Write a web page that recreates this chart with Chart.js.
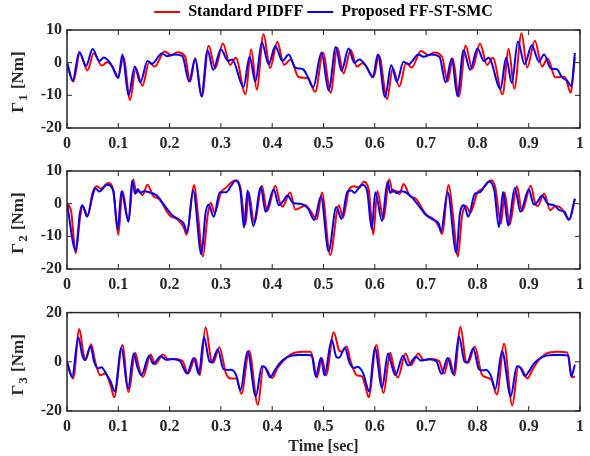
<!DOCTYPE html>
<html lang="en">
<head>
<meta charset="UTF-8">
<title>Joint torques: Standard PIDFF vs Proposed FF-ST-SMC</title>
<script src="https://cdn.jsdelivr.net/npm/chart.js"></script>
<style>
  body { margin: 0; background: #fff; }
  #wrap { position: relative; width: 590px; height: 456px; }
  #wrap canvas { position: absolute; left: 0; }
</style>
</head>
<body>
<div id="wrap">
  <canvas id="c1" width="590" height="152" style="top:0"></canvas>
  <canvas id="c2" width="590" height="146" style="top:152px"></canvas>
  <canvas id="c3" width="590" height="158" style="top:298px"></canvas>
</div>

<script>
  // --- values (time in s, torque in Nm) ---
  const seriesNames = ["Standard PIDFF", "Proposed FF-ST-SMC"];
  const xTicks = [0, 0.1, 0.2, 0.3, 0.4, 0.5, 0.6, 0.7, 0.8, 0.9, 1];

  // Γ1
  const t1Red = [0,0.0125,0.025,0.04,0.052,0.068,0.079,0.094,0.099,0.11,0.123,0.134,0.147,0.16,0.171,0.19,0.204,0.215,0.23,0.24,0.25,0.263,0.276,0.289,0.304,0.318,0.329,0.348,0.359,0.37,0.383,0.396,0.41,0.423,0.436,0.451,0.469,0.484,0.499,0.514,0.527,0.539,0.553,0.565,0.576,0.598,0.608,0.624,0.635,0.648,0.661,0.672,0.69,0.705,0.716,0.731,0.742,0.752,0.764,0.777,0.79,0.805,0.819,0.83,0.849,0.861,0.872,0.886,0.897,0.912,0.926,0.937,0.952,0.97,0.982,0.99];
  const g1Red = [0,-5.8,2.9,-2.4,2.9,-0.9,0.2,-2.8,-4.5,1.6,-11.4,-1.7,-7.1,0,-1.2,3.4,2.3,3.2,2,-5.8,1.3,-10.4,5.2,-1.7,5.9,-0.7,1.5,-9.7,4.1,-8.2,8.7,-1.7,6.4,-0.7,1,-4.3,-4.8,-8.9,3.1,-9.2,4.6,-3.3,3.9,-1.2,-0.2,-4.3,2.3,-11.1,-1.7,-7.3,0,-1.5,3.6,2.3,3.1,1.8,-5.8,1.3,-10.4,5.2,-1.9,5.9,-0.7,1.5,-9.7,4.2,-8,9,-1.5,6.7,-1.2,1.3,-4.5,-4.3,-9.2,1.6];
  const t1Blue = [0,0.011,0.024,0.037,0.05,0.063,0.072,0.086,0.1,0.108,0.12,0.132,0.143,0.157,0.166,0.185,0.195,0.21,0.225,0.238,0.25,0.262,0.274,0.285,0.3,0.314,0.322,0.344,0.356,0.367,0.38,0.393,0.406,0.42,0.432,0.445,0.46,0.47,0.48,0.496,0.51,0.524,0.535,0.549,0.56,0.57,0.583,0.596,0.606,0.62,0.632,0.643,0.656,0.666,0.685,0.695,0.71,0.726,0.738,0.75,0.761,0.773,0.786,0.8,0.813,0.822,0.845,0.856,0.867,0.879,0.892,0.906,0.92,0.93,0.943,0.955,0.965,0.975,0.983,0.99];
  const g1Blue = [0,-5.5,3.3,-1,4.2,0.5,1.6,-0.5,-4.7,2.5,-10,-1.2,-6,0.5,-0.3,2.8,2,2.5,2,-5.8,1.3,-10.3,3.8,-2.2,4.1,0.5,1,-7.5,1.8,-5.8,6.2,-0.5,5,0.5,2.5,-1.5,-2,-4.5,-7.5,3,-8.5,4.8,-2.5,4.3,0,1,-1,-4.5,2.5,-10.5,-0.8,-5.8,0.3,-0.5,2.5,1.8,2.5,1.8,-6,1.3,-10.2,3.8,-2.2,4.3,0.5,1.5,-8,1.5,-6.2,6.5,-0.5,5.3,0.3,2.5,-1.8,-2,-4.5,-5.5,-7.2,3];

  // Γ2
  const t2Red = [0,0.008,0.017,0.025,0.03,0.035,0.04,0.05,0.058,0.066,0.08,0.09,0.1,0.108,0.12,0.129,0.135,0.14,0.147,0.157,0.168,0.18,0.2,0.215,0.228,0.233,0.248,0.255,0.265,0.274,0.28,0.288,0.3,0.31,0.32,0.33,0.338,0.348,0.354,0.365,0.38,0.39,0.406,0.415,0.42,0.435,0.445,0.455,0.465,0.475,0.487,0.497,0.513,0.53,0.538,0.55,0.56,0.57,0.578,0.588,0.597,0.605,0.617,0.628,0.635,0.642,0.648,0.656,0.668,0.68,0.7,0.715,0.726,0.731,0.744,0.752,0.762,0.77,0.778,0.786,0.8,0.81,0.82,0.827,0.835,0.846,0.853,0.863,0.877,0.887,0.904,0.913,0.918,0.93,0.942,0.952,0.962,0.98,0.99];
  const g2Red = [0,-2.3,-15.2,-4.8,-0.9,-2,-3.8,3.4,5.3,4.6,6.3,4.4,-9.5,3.9,-5.4,7.5,3.4,3.9,2.6,5.8,2.4,1.3,-3.6,-4.8,-7.4,-9.5,5.7,-2.8,-16.2,-3.8,0.3,-2.8,3.4,4.9,6.5,7.2,4.9,-6.4,3.4,-5.9,5.5,-2.3,5.5,0.3,-0.9,3.4,-1.8,-1.2,-0.5,-2.3,-4.8,3.4,-15.7,-0.5,-4.3,4.4,5.3,4.9,6.7,4.4,-9.5,3.9,-4.8,7.5,3.6,3.9,2.9,6,2.4,1.5,-3.3,-4.8,-7.4,-9.3,5.7,-2.8,-16.2,-3.8,-0.7,-2.8,3.4,4.6,6.5,7.2,4.9,-6.1,3.4,-6.4,5.3,-2.3,5.5,-0.2,-0.7,3.1,-2,-0.7,-1.2,-4.8,1.5];
  const t2Blue = [0,0.017,0.025,0.03,0.039,0.05,0.055,0.063,0.078,0.09,0.099,0.106,0.12,0.127,0.133,0.138,0.143,0.15,0.16,0.175,0.19,0.205,0.22,0.228,0.234,0.246,0.262,0.27,0.276,0.286,0.298,0.31,0.32,0.328,0.338,0.345,0.352,0.363,0.378,0.387,0.403,0.413,0.42,0.43,0.44,0.45,0.46,0.47,0.482,0.495,0.51,0.525,0.535,0.547,0.555,0.56,0.575,0.585,0.594,0.601,0.614,0.625,0.63,0.636,0.642,0.65,0.66,0.67,0.685,0.7,0.715,0.725,0.729,0.742,0.759,0.766,0.774,0.782,0.795,0.805,0.815,0.823,0.833,0.842,0.85,0.86,0.873,0.884,0.9,0.91,0.917,0.926,0.937,0.95,0.96,0.97,0.978,0.99];
  const g2Blue = [0,-14.3,-3,-0.5,-4,2.5,4.7,3.7,5.8,4,-7.8,3.7,-5.5,7,3,4.5,3.3,3.8,3.5,2.5,-0.5,-3.5,-5,-6.2,-8.8,4,-15.5,-3,-0.3,-4,3.5,3.5,5.5,7,4,-7.3,4,-6.8,5,-2.5,4.3,-0.5,0.5,2.5,0.3,0,-0.3,-1.5,-5,2.2,-14.5,-1,-4.7,3.8,4,3.3,5.8,4,-7.7,3.5,-5.3,6.8,3.3,4.2,3.2,3.8,3.5,2.3,-0.5,-3.5,-5,-6.2,-8.5,3.5,-15,-3,-0.5,-4,3,3.5,5.5,6.8,4,-7.2,3.6,-6.7,4.8,-2.5,4.3,-0.3,0.5,2.5,0,-0.5,-2,-2.5,-5,1.5];

  // Γ3
  const t3Red = [0,0.012,0.024,0.032,0.036,0.047,0.055,0.065,0.075,0.085,0.092,0.108,0.12,0.133,0.14,0.148,0.163,0.172,0.187,0.197,0.21,0.225,0.236,0.25,0.259,0.27,0.282,0.285,0.297,0.31,0.32,0.33,0.34,0.355,0.372,0.383,0.39,0.4,0.41,0.42,0.44,0.46,0.475,0.48,0.487,0.497,0.505,0.52,0.53,0.535,0.545,0.553,0.565,0.575,0.582,0.588,0.603,0.617,0.63,0.637,0.645,0.66,0.67,0.685,0.695,0.71,0.725,0.735,0.745,0.755,0.767,0.778,0.782,0.795,0.808,0.818,0.828,0.838,0.852,0.868,0.88,0.888,0.897,0.907,0.917,0.935,0.955,0.975,0.985,0.99];
  const g3Red = [0,-6.8,13.3,3.4,0.7,7.1,0,-5.5,-4.8,-9.6,-14.4,6.8,-12.3,3.7,-2.1,-6.2,3,-1,3,1,1.1,0.4,-4.8,1.4,-5.5,14,0,-0.4,5.9,-4.8,-6.8,-6.8,-13,4.5,-17.5,-1.8,-3.4,-6.6,-2.7,0,3.4,4.1,4.1,0.7,-6.4,1.4,-5.5,12,4.8,4.1,6.2,0,-5.5,-5.9,-10.3,-14.4,6.8,-12.7,3.7,-2.1,-6.4,3.4,-1.4,3.4,0.7,1.1,0.4,-4.8,1.4,-5.5,14.1,0,-0.4,6.2,-4.8,-6.4,-7.5,-13.3,7.3,-17.8,-1.8,-3.4,-6.8,-3.4,0,3.4,4.1,3.8,-6.4,-5.8];
  const t3Blue = [0,0.01,0.022,0.03,0.035,0.046,0.053,0.06,0.067,0.078,0.085,0.093,0.106,0.119,0.13,0.137,0.145,0.16,0.168,0.183,0.193,0.205,0.22,0.234,0.247,0.257,0.267,0.278,0.282,0.294,0.305,0.315,0.32,0.33,0.338,0.352,0.368,0.38,0.387,0.396,0.405,0.415,0.43,0.45,0.47,0.477,0.485,0.495,0.502,0.516,0.525,0.53,0.542,0.55,0.56,0.566,0.578,0.582,0.589,0.6,0.614,0.626,0.633,0.64,0.655,0.665,0.68,0.69,0.705,0.72,0.73,0.742,0.753,0.764,0.775,0.78,0.792,0.803,0.812,0.816,0.826,0.835,0.848,0.865,0.877,0.884,0.893,0.9,0.91,0.925,0.945,0.965,0.977,0.983,0.99];
  const g3Blue = [0,-6.2,10,2.5,0.7,6.2,0,-2.7,-2.2,-5.5,-8,-12,5.7,-11,3.4,-2,-5.5,2.5,-0.8,2.3,0.8,1.1,0.3,-4.8,1.5,-5,10,0,-0.2,5,-3,-3.3,-3.2,-5.5,-11.5,4.2,-14,-1.8,-2.5,-6.3,-3.5,-0.5,2,2.8,2.8,2.5,-6,1.6,-5.5,9,2,1.6,5.7,0,-2.5,-2,-5,-8,-12,5.7,-10.5,3.4,-1.5,-5.5,2.5,-1.5,2.1,0.5,1,0.3,-5,1.5,-5,10.3,0,-0.3,5.5,-3,-3.5,-3.2,-5.5,-11,4.3,-14,-1.8,-2.5,-5.8,-4,-0.8,1.8,2.8,2.8,2.5,-6,-1.2];

  const FONT = "'Liberation Serif', 'Times New Roman', serif";
  const INK = "#262626";

  function pts(t, v, name) {
    if (t.length !== v.length) throw new Error(name + ": " + t.length + " times vs " + v.length + " values");
    return t.map((x, i) => ({ x: x, y: v[i] }));
  }

  // MATLAB-like box, inward ticks on all sides, y label with subscript
  const matlabAxes = {
    id: "matlabAxes",
    afterLayout(chart) {
      if (chart.legend && chart.legend.options.display) {
        chart.legend.left = chart.chartArea.left;
        chart.legend.right = chart.chartArea.right;
      }
    },
    afterDatasetsDraw(chart, args, opts) {
      const { ctx, chartArea: a, scales: { x, y } } = chart;
      ctx.save();
      ctx.strokeStyle = INK;
      ctx.lineWidth = 1;
      ctx.beginPath();
      x.ticks.forEach(t => {
        const px = x.getPixelForValue(t.value);
        ctx.moveTo(px, a.bottom); ctx.lineTo(px, a.bottom - 5);
        ctx.moveTo(px, a.top); ctx.lineTo(px, a.top + 5);
      });
      y.ticks.forEach(t => {
        const py = y.getPixelForValue(t.value);
        ctx.moveTo(a.left, py); ctx.lineTo(a.left + 5, py);
        ctx.moveTo(a.right, py); ctx.lineTo(a.right - 5, py);
      });
      ctx.stroke();
      ctx.lineWidth = 1.5;
      ctx.strokeRect(a.left, a.top, a.right - a.left, a.bottom - a.top);

      // Γ_n [Nm]
      const big = "bold 17px " + FONT, small = "bold 13px " + FONT;
      ctx.translate(19, (a.top + a.bottom) / 2 + 3);
      ctx.rotate(-Math.PI / 2);
      ctx.fillStyle = INK;
      ctx.textBaseline = "middle";
      ctx.textAlign = "left";
      ctx.font = big;
      const wG = ctx.measureText("Γ").width, wU = ctx.measureText(" [Nm]").width;
      ctx.font = small;
      const wS = ctx.measureText(opts.sub).width + 2;
      let sx = -(wG + wS + wU) / 2;
      ctx.font = big; ctx.fillText("Γ", sx, 0); sx += wG;
      ctx.font = small; ctx.fillText(opts.sub, sx + 1, 5); sx += wS;
      ctx.font = big; ctx.fillText(" [Nm]", sx, 0);
      ctx.restore();
    }
  };

  function makeChart(id, o) {
    return new Chart(document.getElementById(id), {
      type: "line",
      data: {
        datasets: [
          { label: seriesNames[0], data: pts(o.tr, o.vr, id + " red"), borderColor: "#ff0000", borderWidth: 2, order: 1 },
          { label: seriesNames[1], data: pts(o.tb, o.vb, id + " blue"), borderColor: "#0000ff", borderWidth: 2, order: 0 }
        ]
      },
      options: {
        responsive: false,
        devicePixelRatio: 1,
        animation: false,
        elements: { point: { radius: 0 }, line: { cubicInterpolationMode: "monotone", fill: false } },
        layout: { padding: { left: 0, right: 8, top: o.padTop, bottom: 0 } },
        plugins: {
          legend: {
            display: o.legend,
            position: "top",
            labels: {
              usePointStyle: true,
              pointStyle: "line",
              pointStyleWidth: 26,
              padding: 4,
              color: "#000",
              font: { family: FONT, size: 16, weight: "bold" },
              sort: (a, b) => a.datasetIndex - b.datasetIndex
            }
          },
          tooltip: { enabled: false },
          matlabAxes: { sub: o.sub }
        },
        scales: {
          x: {
            type: "linear",
            min: 0, max: 1,
            afterBuildTicks: s => { s.ticks = xTicks.map(v => ({ value: v })); },
            afterFit: s => { s.height = o.xh; },
            grid: { display: false, drawTicks: false },
            border: { display: false },
            ticks: {
              autoSkip: false, maxRotation: 0, padding: 6, color: INK,
              font: { family: FONT, size: 16, weight: "bold" },
              callback: v => String(Math.round(v * 10) / 10)
            },
            title: {
              display: !!o.xTitle, text: o.xTitle || "", color: INK,
              font: { family: FONT, size: 16, weight: "bold" },
              padding: { top: 0, bottom: 0 }
            }
          },
          y: {
            min: o.yTicks[0], max: o.yTicks[o.yTicks.length - 1],
            afterBuildTicks: s => { s.ticks = o.yTicks.map(v => ({ value: v })); },
            afterFit: s => { s.width = 67; },
            grid: { display: false, drawTicks: false },
            border: { display: false },
            ticks: {
              padding: 5, color: INK,
              font: { family: FONT, size: 16, weight: "bold" },
              callback: v => String(v)
            }
          }
        }
      },
      plugins: [matlabAxes]
    });
  }

  makeChart("c1", { tr: t1Red, vr: g1Red, tb: t1Blue, vb: g1Blue, sub: "1", yTicks: [-20, -10, 0, 10], legend: true, padTop: 0, xh: 24 });
  makeChart("c2", { tr: t2Red, vr: g2Red, tb: t2Blue, vb: g2Blue, sub: "2", yTicks: [-20, -10, 0, 10], legend: false, padTop: 19, xh: 29 });
  makeChart("c3", { tr: t3Red, vr: g3Red, tb: t3Blue, vb: g3Blue, sub: "3", yTicks: [-20, 0, 20], legend: false, padTop: 14, xh: 45, xTitle: "Time [sec]" });
</script>
</body>
</html>
